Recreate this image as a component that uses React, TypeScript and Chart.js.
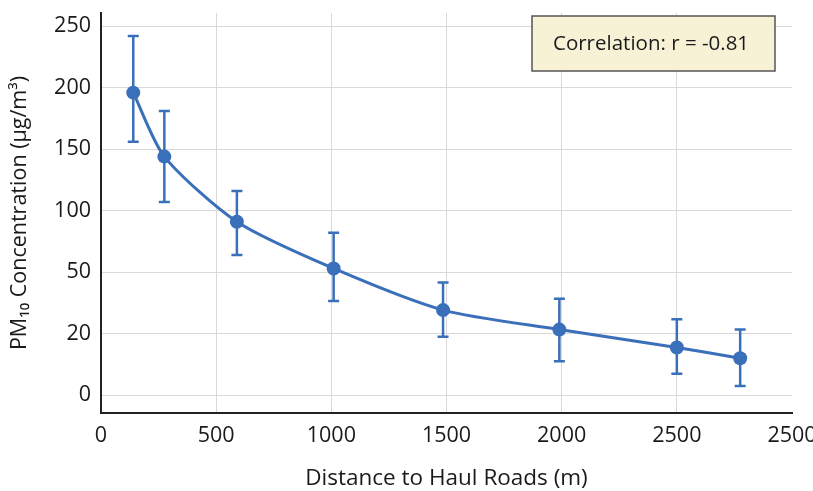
import React, { useEffect, useRef } from "react";
import { Chart, registerables } from "chart.js";

Chart.register(...registerables);

// ---- data ----
const distances = [140, 275, 590, 1010, 1485, 1990, 2500, 2775];
const pm10 = [196, 144, 91, 53, 31.5, 22, 15.5, 12];
const pm10Upper = [242, 181, 116, 82, 45, 37, 27, 22];
const pm10Lower = [156, 107, 64, 36, 19, 11, 7, 3];

const yTickLabels = [0, 20, 50, 100, 150, 200, 250];
const xTickLabels = ["0", "500", "1000", "1500", "2000", "2500", "2500"];
const xTickValues = [0, 500, 1000, 1500, 2000, 2500, 3000];

const correlationText = "Correlation: r = -0.81";
const xTitle = "Distance to Haul Roads (m)";
const yTitle = "PM\u2081\u2080 Concentration (\u00b5g/m\u00b3)";

// y axis has evenly spaced but non-linear labels: map value -> axis position
function toPos(v: number): number {
  if (v <= yTickLabels[0]) return (v - yTickLabels[0]) / (yTickLabels[1] - yTickLabels[0]);
  for (let i = 0; i < yTickLabels.length - 1; i++) {
    const a = yTickLabels[i];
    const b = yTickLabels[i + 1];
    if (v <= b) return i + (v - a) / (b - a);
  }
  const n = yTickLabels.length - 1;
  return n + (v - yTickLabels[n]) / (yTickLabels[n] - yTickLabels[n - 1]);
}

const BLUE = "#3a6fba";
const FONT = "'Open Sans', 'Noto Sans', sans-serif";

const errorBarPlugin = {
  id: "errorBars",
  beforeDatasetsDraw(chart: any) {
    const { ctx, scales } = chart;
    const xs = scales.x;
    const ys = scales.y;
    ctx.save();
    ctx.strokeStyle = BLUE;
    ctx.lineWidth = 2.5;
    const cap = 5.5;
    distances.forEach((d, i) => {
      const px = xs.getPixelForValue(d);
      const top = ys.getPixelForValue(toPos(pm10Upper[i]));
      const bot = ys.getPixelForValue(toPos(pm10Lower[i]));
      ctx.beginPath();
      ctx.moveTo(px, top);
      ctx.lineTo(px, bot);
      ctx.moveTo(px - cap, top);
      ctx.lineTo(px + cap, top);
      ctx.moveTo(px - cap, bot);
      ctx.lineTo(px + cap, bot);
      ctx.stroke();
    });
    ctx.restore();
  },
};

const corrBoxPlugin = {
  id: "corrBox",
  afterDraw(chart: any) {
    const { ctx, chartArea } = chart;
    const w = 243;
    const h = 55;
    const x = chartArea.right - 17 - w;
    const y = chartArea.top + 3;
    ctx.save();
    ctx.fillStyle = "#f7f2d6";
    ctx.fillRect(x, y, w, h);
    ctx.strokeStyle = "#555555";
    ctx.lineWidth = 1.5;
    ctx.strokeRect(x, y, w, h);
    ctx.fillStyle = "#1a1a1a";
    ctx.font = `20.5px ${FONT}`;
    ctx.textAlign = "left";
    ctx.textBaseline = "middle";
    ctx.fillText(correlationText, x + 21, y + h / 2 + 1);
    ctx.restore();
  },
};

export default function App() {
  const ref = useRef<HTMLCanvasElement | null>(null);

  useEffect(() => {
    if (!ref.current) return;
    const points = distances.map((d, i) => ({ x: d, y: toPos(pm10[i]) }));
    const chart = new Chart(ref.current, {
      type: "line",
      data: {
        datasets: [
          {
            label: "PM10",
            data: points,
            borderColor: BLUE,
            backgroundColor: BLUE,
            borderWidth: 3,
            pointRadius: 7,
            pointBorderWidth: 0,
            pointBackgroundColor: BLUE,
            tension: 0.25,
            fill: false,
          },
        ],
      },
      options: {
        animation: false,
        responsive: true,
        maintainAspectRatio: false,
        layout: { padding: { top: 13, right: 20, left: 0, bottom: 0 } },
        plugins: {
          legend: { display: false },
          tooltip: { enabled: false },
        },
        scales: {
          x: {
            type: "linear",
            min: 0,
            max: 3000,
            afterBuildTicks: (scale: any) => {
              scale.ticks = xTickValues.map((v) => ({ value: v }));
            },
            afterFit: (scale: any) => {
              scale.height = 78;
              scale.paddingRight = 21;
              scale.paddingLeft = 0;
            },
            ticks: {
              color: "#1a1a1a",
              font: { family: FONT, size: 21.5 },
              padding: 10,
              maxRotation: 0,
              callback: (v: any) => {
                const idx = xTickValues.indexOf(Number(v));
                return idx >= 0 ? xTickLabels[idx] : "";
              },
            },
            grid: {
              color: (c: any) => (c.tick && c.tick.value === 3000 ? "rgba(0,0,0,0)" : "#d9d9d9"),
              lineWidth: 1,
              drawTicks: false,
            },
            border: { display: true, color: "#222222", width: 2 },
            title: {
              display: true,
              text: xTitle,
              color: "#1a1a1a",
              font: { family: FONT, size: 22.5 },
              padding: { top: 0, bottom: -1 },
            },
          },
          y: {
            type: "linear",
            min: -0.29,
            max: 6.215,
            afterBuildTicks: (scale: any) => {
              scale.ticks = yTickLabels.map((_, i) => ({ value: i }));
            },
            afterFit: (scale: any) => {
              scale.width = 101;
              scale.paddingTop = 0;
              scale.paddingBottom = 0;
            },
            ticks: {
              color: "#1a1a1a",
              font: { family: FONT, size: 21.5 },
              padding: 10,
              callback: (v: any) => {
                const i = Math.round(Number(v));
                return yTickLabels[i] !== undefined ? String(yTickLabels[i]) : "";
              },
            },
            grid: { color: "#d9d9d9", lineWidth: 1, drawTicks: false },
            border: { display: true, color: "#222222", width: 2 },
            title: {
              display: true,
              text: yTitle,
              color: "#1a1a1a",
              font: { family: FONT, size: 21.5 },
              padding: { top: 7, bottom: 0 },
            },
          },
        },
      },
      plugins: [errorBarPlugin, corrBoxPlugin],
    });
    return () => chart.destroy();
  }, []);

  return (
    <div style={{ position: "absolute", left: 0, top: 0, width: 813, height: 491, background: "#ffffff" }}>
      <canvas ref={ref} />
    </div>
  );
}
